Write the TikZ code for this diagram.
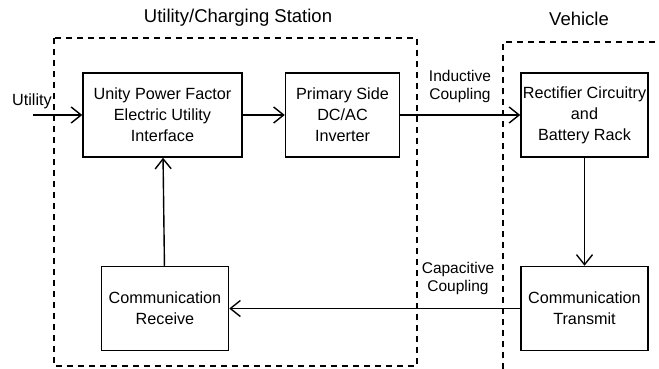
\documentclass[tikz,border=0pt]{standalone}
\usepackage{fontspec}
\setmainfont{Liberation Sans}
\usetikzlibrary{arrows.meta,positioning}

\begin{document}
\begin{tikzpicture}[x=1pt,y=-1pt,font=\fontsize{16.2}{21}\selectfont,
  blk/.style={draw,line width=1.5pt,align=center,inner sep=1pt,minimum width=127pt,minimum height=84pt},
  arr/.style={line width=1.4pt,-{Straight Barb[length=10pt,width=16pt,line width=1.4pt]}},
  zone/.style={line width=1.3pt,dash pattern=on 6pt off 5pt}]
  \useasboundingbox (0,0) rectangle (659,369);
  % dashed regions
  \draw[zone] (54,38) rectangle (417,366);
  \draw[zone] (503,369) -- (503,42) -- (659,42);
  \node[font=\fontsize{18.5}{22}\selectfont] (station) at (238,18) {Utility/Charging Station};
  \node[font=\fontsize{18.5}{22}\selectfont] (vehicle) at (579,19) {Vehicle};
  % blocks
  \node[blk,minimum width=159pt] (unity) at (162.5,115) {Unity Power Factor\\Electric Utility\\Interface};
  \node[blk,minimum width=114pt,right=42pt of unity] (primary) {Primary Side\\DC/AC\\Inverter};
  \node[blk,right=120pt of primary] (rect) {Rectifier Circuitry\\and\\Battery Rack};
  \node[blk,below=108pt of rect] (transmit) {Communication\\Transmit};
  \node[blk,left=291pt of transmit] (receive) {Communication\\Receive};
  % labels
  \coordinate (util) at (33,115);
  \node (utillbl) at (32,101) {Utility};
  \node[align=center,font=\fontsize{15.5}{18}\selectfont] (induct) at (460,86) {Inductive\\Coupling};
  \node[align=center,font=\fontsize{15.5}{18}\selectfont] (capac) at (458,278) {Capacitive\\Coupling};
  % connectors
  \draw[arr] (util) -- (unity);
  \draw[arr] (unity) -- (primary);
  \draw[arr] (primary) -- (rect);
  \draw[arr] (rect) -- (transmit);
  \draw[arr] (transmit) -- (receive);
  \draw[arr] (receive) -- (unity);
\end{tikzpicture}
\end{document}
